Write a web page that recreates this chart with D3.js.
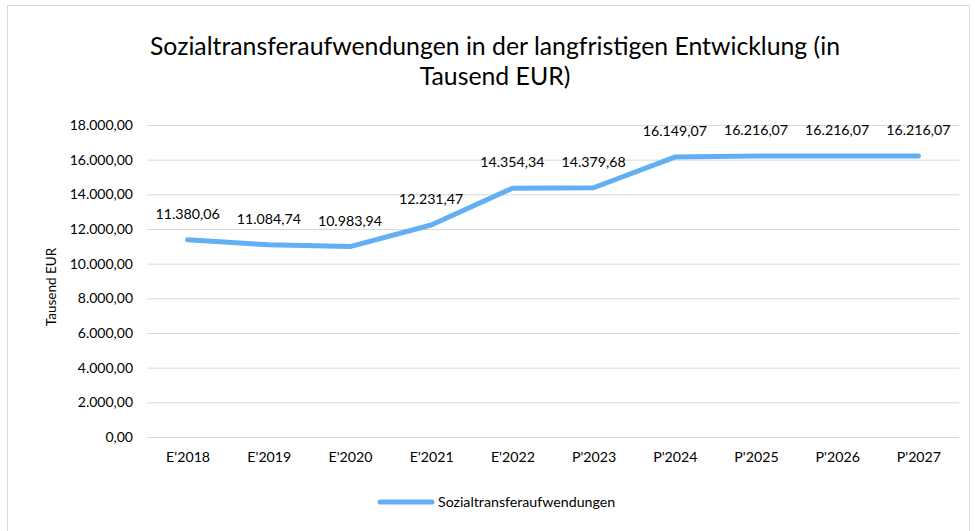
<!DOCTYPE html>
<html>
<head>
<meta charset="utf-8">
<script src="https://cdn.jsdelivr.net/npm/d3@7"></script>
<style>
  body { margin: 0; background: #fff; overflow: hidden; }
  svg { display: block; }
  text { font-family: Lato, "Open Sans", sans-serif; fill: #000; }
</style>
</head>
<body>
<svg id="chart" width="975" height="531"></svg>
<script>
const categories = ["E'2018", "E'2019", "E'2020", "E'2021", "E'2022", "P'2023", "P'2024", "P'2025", "P'2026", "P'2027"];
const values = [11380.06, 11084.74, 10983.94, 12231.47, 14354.34, 14379.68, 16149.07, 16216.07, 16216.07, 16216.07];
const yTicks = [0, 2000, 4000, 6000, 8000, 10000, 12000, 14000, 16000, 18000];
const seriesName = "Sozialtransferaufwendungen";

const width = 975;
const height = 531;
const margin = { top: 125, right: 16, bottom: 94, left: 147 };
const innerWidth = width - margin.left - margin.right;
const innerHeight = height - margin.top - margin.bottom;
const lineColor = "#62b0f3";

const fmt = d3.formatLocale({ decimal: ",", thousands: ".", grouping: [3], currency: ["", " €"] }).format(",.2f");

const svg = d3.select("#chart");

// outer frame (bottom edge lies below the window)
svg.append("path")
  .attr("d", "M7.5,531V5.5H969.5V531")
  .attr("fill", "none")
  .attr("stroke", "#d9d9d9");

// title
const title = svg.append("text")
  .attr("text-anchor", "middle")
  .attr("font-size", 24.8);
title.append("tspan").attr("x", 495).attr("y", 55).text("Sozialtransferaufwendungen in der langfristigen Entwicklung (in");
title.append("tspan").attr("x", 495).attr("y", 85).text("Tausend EUR)");

const x = d3.scalePoint()
  .domain(categories)
  .range([0, innerWidth])
  .padding(0.5);

const y = d3.scaleLinear()
  .domain([0, 18000])
  .range([innerHeight, 0]);

const g = svg.append("g")
  .attr("transform", `translate(${margin.left}, ${margin.top})`);

// gridlines + y labels
const yAxis = d3.axisLeft(y)
  .tickValues(yTicks)
  .tickSize(-innerWidth)
  .tickPadding(14)
  .tickFormat(fmt);

g.append("g")
  .call(yAxis)
  .call(s => s.select(".domain").remove())
  .call(s => s.selectAll(".tick line").attr("stroke", "#d9d9d9"))
  .call(s => s.selectAll(".tick text").attr("font-size", 14).attr("font-family", "Lato, sans-serif"));

// x labels
const xAxis = d3.axisBottom(x).tickSize(0).tickPadding(15);
g.append("g")
  .attr("transform", `translate(0, ${innerHeight})`)
  .call(xAxis)
  .call(s => s.select(".domain").remove())
  .call(s => s.selectAll(".tick text").attr("font-size", 14.2).attr("font-family", "Lato, sans-serif"));

// y title
svg.append("text")
  .attr("transform", `translate(56, ${margin.top + innerHeight / 2 + 6}) rotate(-90)`)
  .attr("text-anchor", "middle")
  .attr("font-size", 13.5)
  .text("Tausend EUR");

// line
const line = d3.line()
  .x((d, i) => x(categories[i]))
  .y(d => y(d));

g.append("path")
  .datum(values)
  .attr("fill", "none")
  .attr("stroke", lineColor)
  .attr("stroke-width", 5)
  .attr("stroke-linecap", "round")
  .attr("stroke-linejoin", "round")
  .attr("d", line);

// data labels
g.selectAll(".dlabel")
  .data(values)
  .enter().append("text")
  .attr("class", "dlabel")
  .attr("x", (d, i) => x(categories[i]))
  .attr("y", d => y(d) - 21)
  .attr("text-anchor", "middle")
  .attr("font-size", 14.2)
  .text(d => fmt(d));

// legend
const legend = svg.append("g").attr("transform", "translate(380, 502)");
legend.append("line")
  .attr("x1", 0).attr("x2", 52)
  .attr("y1", 0).attr("y2", 0)
  .attr("stroke", lineColor)
  .attr("stroke-width", 5)
  .attr("stroke-linecap", "round");
legend.append("text")
  .attr("x", 58)
  .attr("y", 5)
  .attr("font-size", 14.2)
  .text(seriesName);
</script>
</body>
</html>
